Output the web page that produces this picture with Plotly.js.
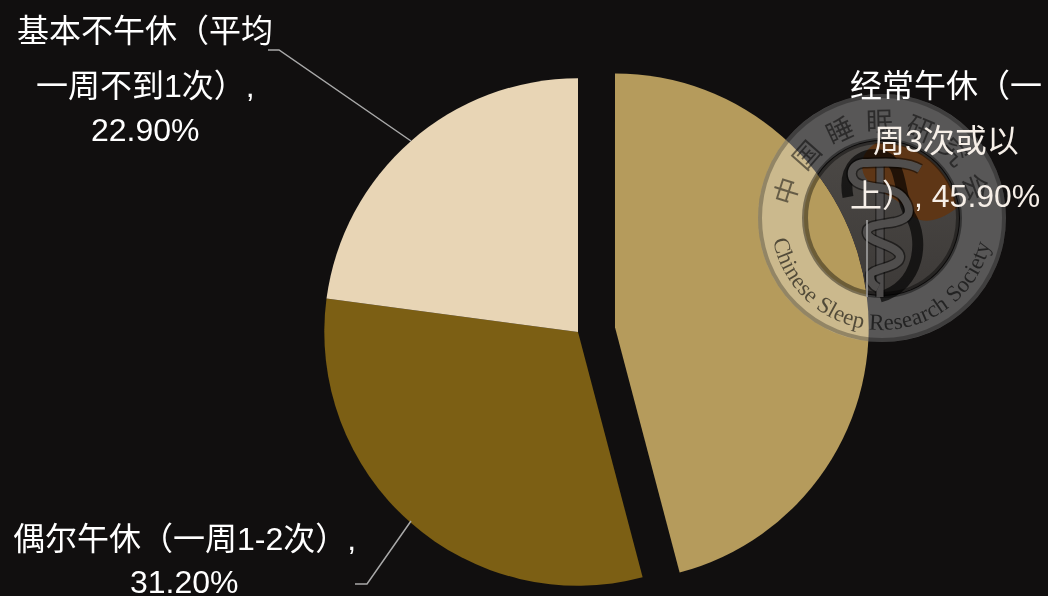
<!DOCTYPE html>
<html>
<head>
<meta charset="utf-8">
<script src="https://cdn.plot.ly/plotly-3.0.1.min.js"></script>
<style>
html,body{margin:0;padding:0;width:1048px;height:596px;overflow:hidden;background:#110f0f}
#chart,#labels{position:absolute;left:0;top:0;width:1048px;height:623px}
#labels{pointer-events:none}
svg.seal{position:absolute;left:0;top:0;pointer-events:none}
#sealBase{mix-blend-mode:lighten}
</style>
</head>
<body>
<div id="chart"></div>
<svg id="sealBase" class="seal" width="1048" height="596" viewBox="0 0 1048 596">
  <defs>
    <linearGradient id="lower" x1="0" y1="0" x2="0" y2="1">
      <stop offset="0" stop-color="#4c4946"/>
      <stop offset="1" stop-color="#3d3a38"/>
    </linearGradient>
  </defs>
  <circle cx="882" cy="218" r="77" fill="url(#lower)"/>
  <path d="M 876 143 A 76 76 0 0 1 957 208 C 932 226 916 224 905 208 C 895 194 862 190 862 165 C 862 155 868 148 876 143 Z" fill="#5e3616"/>
</svg>
<svg class="seal" width="1048" height="596" viewBox="0 0 1048 596">
  <defs>
    <path id="arcBottom" d="M 773 240 A 111 111 0 0 0 991 240" fill="none"/>
    <path id="arcTop" d="M 793 207 A 90 90 0 0 1 968 195" fill="none"/>
  </defs>
  <path fill="#ffffff" fill-opacity="0.3" fill-rule="evenodd" d="M 758 218 a 124 124 0 1 0 248 0 a 124 124 0 1 0 -248 0 Z M 804 218 a 78 78 0 1 0 156 0 a 78 78 0 1 0 -156 0 Z"/>
  <circle cx="882" cy="218" r="122" fill="none" stroke="#000" stroke-opacity="0.28" stroke-width="4"/>
  <circle cx="882" cy="218" r="77" fill="none" stroke="#000" stroke-opacity="0.4" stroke-width="6"/>
  <path d="M 848 197 C 842 165 862 152 880 155 C 905 160 897 195 910 215 C 925 240 920 285 880 297" fill="none" stroke="#000" stroke-opacity="0.65" stroke-width="11"/>
  <line x1="880" y1="165" x2="880" y2="297" stroke="#000" stroke-opacity="0.4" stroke-width="10"/>
  <line x1="880" y1="165" x2="880" y2="297" stroke="#4e4c4c" stroke-width="7"/>
  <path d="M 920 169 C 905 160 880 163 863 163 C 848 165 848 182 863 185 C 880 189 897 187 905 200 C 913 213 908 219 895 222 C 878 225 866 225 867 233 C 868 243 900 245 900 257 C 900 268 870 268 870 276 C 870 282 874 286 878 288" fill="none" stroke="#000" stroke-opacity="0.5" stroke-width="11"/>
  <path d="M 920 169 C 905 160 880 163 863 163 C 848 165 848 182 863 185 C 880 189 897 187 905 200 C 913 213 908 219 895 222 C 878 225 866 225 867 233 C 868 243 900 245 900 257 C 900 268 870 268 870 276 C 870 282 874 286 878 288" fill="none" stroke="#504e4d" stroke-width="8"/>
  <text font-family="'Liberation Serif'" font-size="23" fill="#000" fill-opacity="0.6"><textPath href="#arcBottom" textLength="302" lengthAdjust="spacing">Chinese Sleep Research Society</textPath></text>
  <text font-family="'Noto Sans CJK SC'" font-size="27" fill="#000" fill-opacity="0.5"><textPath href="#arcTop" textLength="250" lengthAdjust="spacing">中国睡眠研究会</textPath></text>
</svg>
<div id="labels"></div>
<script>
const categories = ['经常午休', '偶尔午休', '基本不午休'];
const shareValues = [45.9, 31.2, 22.9];
const sliceColors = ['#b59b5c', '#7c5f14', '#e8d5b5'];
const slicePull = [0.147, 0, 0];
const labelLines = ['基本不午休（平均', '一周不到1次）,', '22.90%', '经常午休（一', '周3次或以', '上）, 45.90%', '偶尔午休（一周1-2次）,', '31.20%'];
const labelX = [145, 145, 145, 946, 946, 945, 184, 184];
const labelY = [31, 86, 130, 86, 141, 196, 539, 582];
const labelColors = ['#ffffff', '#ffffff', '#ffffff', '#ffffff', '#f6efe8', '#f6efe8', '#ffffff', '#ffffff'];
const leaderX = [[268, 279, 411], [867, 867], [355, 367, 411]];
const leaderY = [[50, 50, 141], [220, 297], [584, 584, 521]];

const W = 1048, H = 623;
const px = v => v / W, py = v => 1 - v / H;
const fontFamily = "'Liberation Sans','Noto Sans CJK SC',sans-serif";

const annotations = labelLines.map((t, i) => ({
  text: t, xref: 'paper', yref: 'paper', x: px(labelX[i]), y: py(labelY[i]),
  xanchor: 'center', yanchor: 'middle', showarrow: false,
  font: {family: fontFamily, size: 32, color: labelColors[i]}
}));
const shapes = leaderX.map((xs, i) => ({
  type: 'path', xref: 'paper', yref: 'paper',
  path: xs.map((x, j) => (j ? 'L ' : 'M ') + px(x) + ' ' + py(leaderY[i][j])).join(' '),
  line: {color: '#a9a9a9', width: 1.5}
}));
const frame = {width: W, height: H, showlegend: false, margin: {l: 0, r: 0, t: 0, b: 0}};

Plotly.newPlot('chart', [{
  type: 'pie', labels: categories, values: shareValues, sort: false,
  direction: 'clockwise', rotation: 0, pull: slicePull,
  marker: {colors: sliceColors, line: {width: 0}},
  textinfo: 'none', hoverinfo: 'label+percent',
  domain: {x: [287 / W, 869 / W], y: [0, 582 / H]}
}], Object.assign({paper_bgcolor: '#110f0f', plot_bgcolor: '#110f0f'}, frame), {displayModeBar: false});

Plotly.newPlot('labels', [], Object.assign({
  paper_bgcolor: 'rgba(0,0,0,0)', plot_bgcolor: 'rgba(0,0,0,0)',
  xaxis: {visible: false}, yaxis: {visible: false},
  annotations, shapes
}, frame), {displayModeBar: false, staticPlot: true});
</script>
</body>
</html>
